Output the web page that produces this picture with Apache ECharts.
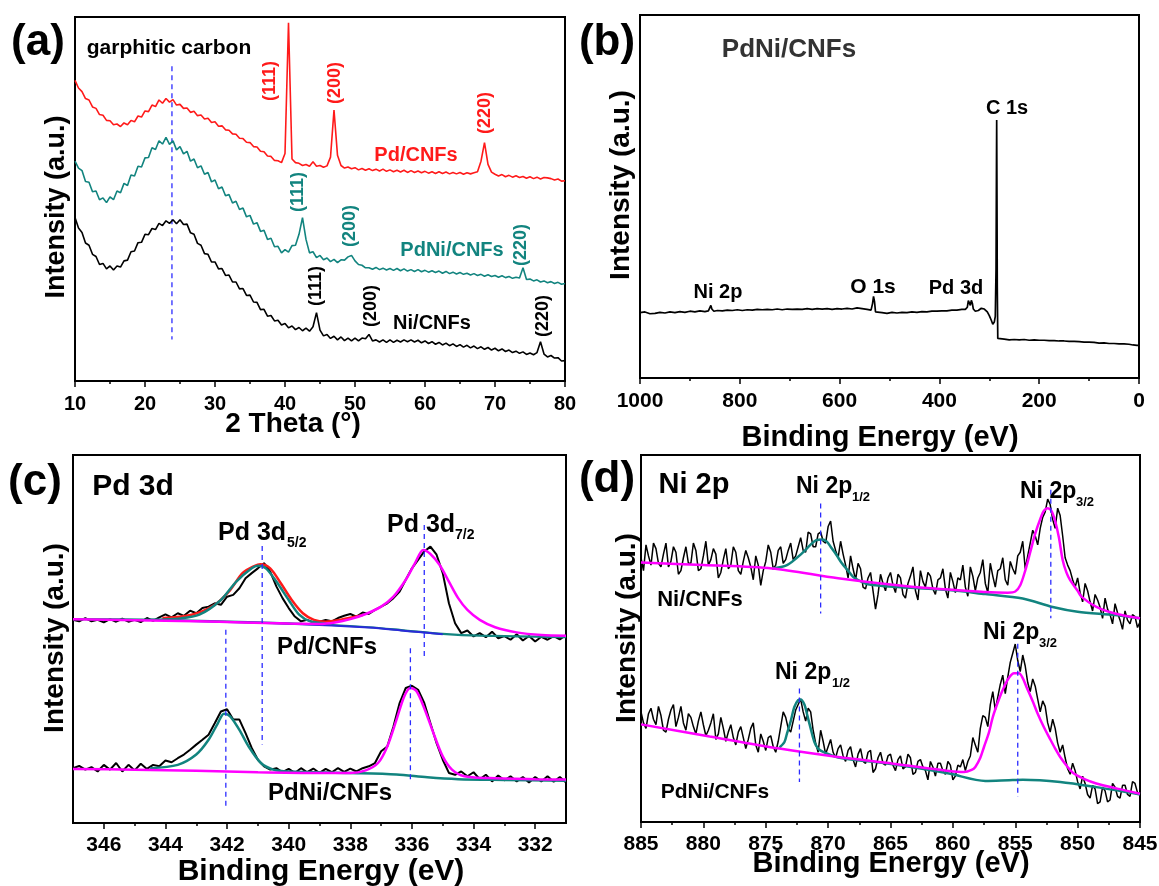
<!DOCTYPE html>
<html>
<head>
<meta charset="utf-8">
<title>PdNi/CNFs XRD and XPS</title>
<script src="https://cdn.jsdelivr.net/npm/echarts@6/dist/echarts.min.js"></script>
<style>
  html, body { margin: 0; padding: 0; background: #fff; }
  #chart { width: 1159px; height: 886px; }
</style>
</head>
<body>
<div id="chart"></div>
<script>
// (a) XRD, sampled every 0.5 deg from 10 to 80
const thetaStart = 10, thetaStep = 0.5;
const xrdPd = [
  82.6, 80.5, 79.5, 77.6, 77.2, 75.3, 74.9, 73.2, 73.0, 71.6,
  71.5, 70.4, 70.6, 69.9, 70.9, 70.4, 71.6, 71.2, 72.8, 72.5,
  74.2, 74.0, 75.8, 75.4, 77.2, 76.3, 77.6, 76.6, 77.3, 75.8,
  76.0, 74.9, 75.0, 73.8, 74.1, 72.9, 73.1, 72.0, 72.2, 71.0,
  71.2, 70.0, 70.1, 69.0, 68.9, 67.9, 67.8, 66.7, 66.6, 65.6,
  65.5, 64.4, 64.3, 63.1, 63.0, 61.8, 61.7, 60.6, 60.5, 60.0,
  62.5, 98.4, 61.0, 60.0, 59.8, 59.2, 59.5, 59.0, 60.2, 59.0,
  59.2, 58.7, 59.1, 61.5, 74.4, 62.0, 59.2, 58.5, 58.8, 58.3,
  58.6, 58.0, 58.4, 57.9, 58.3, 57.8, 58.2, 57.7, 58.2, 57.6,
  58.0, 57.5, 57.9, 57.4, 57.9, 57.3, 57.8, 57.3, 57.7, 57.2,
  57.6, 57.1, 57.5, 57.0, 57.5, 57.0, 57.4, 56.9, 57.3, 56.9,
  57.3, 56.8, 57.2, 56.9, 57.2, 57.5, 60.4, 65.5, 59.5, 57.4,
  56.8, 56.3, 56.7, 56.1, 56.5, 56.0, 56.4, 55.9, 56.2, 55.7,
  56.1, 55.6, 56.0, 55.5, 55.9, 55.8, 55.6, 55.2, 55.5, 54.9,
  55.0
];
const xrdPdNi = [
  60.4, 58.5, 57.8, 54.8, 54.6, 52.0, 52.2, 49.8, 50.3, 49.0,
  50.6, 49.8, 52.2, 51.7, 54.3, 53.7, 56.6, 56.3, 59.0, 58.8,
  61.3, 61.4, 64.1, 63.6, 66.0, 65.1, 66.9, 65.0, 66.0, 63.5,
  64.4, 62.4, 63.1, 60.4, 61.0, 58.6, 59.1, 56.8, 57.3, 54.7,
  55.2, 52.8, 53.3, 50.9, 51.2, 48.9, 49.4, 47.1, 47.5, 45.1,
  45.5, 43.1, 43.5, 41.1, 41.4, 38.9, 39.2, 36.9, 37.0, 35.2,
  36.1, 35.4, 37.2, 37.3, 40.3, 44.9, 38.9, 35.2, 35.5, 33.9,
  34.5, 33.3, 33.8, 32.8, 33.4, 32.5, 33.3, 33.2, 34.1, 34.5,
  33.0, 32.0, 31.8, 31.1, 31.1, 30.7, 31.2, 30.6, 31.0, 30.5,
  30.9, 30.4, 30.9, 30.3, 30.8, 30.2, 30.6, 30.1, 30.6, 30.0,
  30.4, 29.9, 30.3, 29.8, 30.2, 29.6, 30.1, 29.5, 29.9, 29.4,
  29.8, 29.3, 29.6, 29.1, 29.5, 29.0, 29.3, 28.8, 29.2, 28.7,
  29.0, 28.5, 28.9, 28.4, 28.7, 28.2, 28.5, 28.3, 31.1, 27.9,
  28.0, 27.5, 27.8, 27.2, 27.5, 27.0, 27.3, 26.8, 27.1, 26.6,
  26.8
];
const xrdNi = [
  44.9, 42.0, 40.8, 37.9, 37.3, 34.8, 34.2, 32.0, 32.3, 30.8,
  31.6, 30.5, 31.6, 31.3, 33.0, 33.2, 35.5, 35.7, 38.0, 38.1,
  40.3, 40.2, 41.9, 41.6, 43.3, 42.7, 44.0, 43.3, 44.3, 43.2,
  44.3, 43.0, 43.1, 40.7, 40.3, 37.8, 37.3, 35.0, 34.8, 32.7,
  32.7, 30.8, 30.9, 29.0, 29.1, 27.2, 27.2, 25.3, 25.4, 23.5,
  23.6, 21.7, 21.6, 19.6, 19.7, 17.8, 18.0, 16.5, 16.7, 15.4,
  15.8, 14.6, 15.1, 14.1, 14.7, 13.8, 14.5, 13.7, 14.9, 18.8,
  14.0, 12.4, 12.8, 11.7, 12.3, 11.3, 12.1, 11.1, 11.8, 11.0,
  11.8, 11.0, 11.8, 11.6, 12.8, 11.0, 11.3, 10.7, 11.3, 10.6,
  11.3, 10.6, 11.2, 10.7, 11.3, 10.8, 11.3, 10.7, 11.2, 10.5,
  11.0, 10.3, 10.8, 10.1, 10.6, 9.9, 10.4, 9.7, 10.2, 9.5,
  10.0, 9.3, 9.8, 9.1, 9.6, 8.9, 9.4, 8.7, 9.2, 8.5,
  9.0, 8.3, 8.8, 8.1, 8.5, 7.8, 8.2, 7.6, 8.0, 7.3,
  7.7, 7.2, 7.8, 10.8, 7.4, 6.6, 7.0, 6.3, 6.4, 5.5,
  5.6
];
const xrdGuide = [[23.85, 86.5], [23.85, 11.4]];

// (b) XPS survey [binding energy, intensity]
const survey = [
  [1000, 18.0], [990, 18.2], [980, 17.7], [970, 17.8], [960, 18.1], [950, 17.9], [940, 18.2], [930, 18.0],
  [920, 18.3], [910, 18.1], [900, 18.4], [890, 18.2], [880, 18.5], [870, 18.3], [863, 18.5], [860, 19.4],
  [858, 20.0], [856, 19.0], [852, 18.4], [845, 18.6], [835, 18.5], [825, 18.7], [815, 18.6], [805, 18.8],
  [795, 18.6], [785, 18.8], [775, 18.7], [765, 18.9], [755, 18.8], [745, 18.9], [735, 18.8], [725, 19.0],
  [715, 18.8], [705, 19.0], [695, 18.9], [685, 19.0], [675, 18.9], [665, 19.1], [655, 18.9], [645, 19.1],
  [635, 19.0], [625, 19.1], [615, 18.9], [605, 19.1], [595, 19.0], [585, 19.2], [575, 19.0], [565, 19.3],
  [555, 19.1], [545, 18.9], [537, 18.7], [534, 20.5], [532, 22.5], [530, 21.0], [528, 18.2], [525, 17.8],
  [515, 18.0], [505, 17.8], [495, 18.1], [485, 17.9], [475, 18.1], [465, 18.0], [455, 18.2], [445, 18.1],
  [435, 18.3], [425, 18.2], [415, 18.4], [405, 18.4], [395, 18.5], [385, 18.5], [375, 18.7], [365, 18.7],
  [355, 18.9], [348, 18.9], [344, 19.5], [342, 21.3], [340, 21.5], [338, 20.0], [336, 21.4], [334, 20.6],
  [332, 19.0], [328, 18.4], [322, 18.6], [316, 19.2], [310, 19.0], [304, 18.2], [300, 17.2], [296, 15.9],
  [293, 14.8], [290, 15.4], [288, 17.0], [286.5, 30.0], [285.6, 60.0], [285.2, 71.1], [284.6, 50.0],
  [284, 25.0], [283, 10.9], [280, 10.6], [270, 10.7], [260, 10.5], [250, 10.6], [240, 10.5], [230, 10.6],
  [220, 10.4], [210, 10.5], [200, 10.4], [190, 10.4], [180, 10.3], [170, 10.3], [160, 10.2], [150, 10.2],
  [140, 10.1], [130, 10.1], [120, 10.0], [110, 9.9], [100, 9.9], [90, 9.8], [80, 9.6], [70, 9.7],
  [60, 9.5], [50, 9.5], [40, 9.4], [30, 9.4], [20, 9.3], [12, 9.1], [8, 9.4], [4, 9.0], [0, 9.0]
];

// (c) Pd 3d, raw sampled every 0.2 eV from 347 to 331
const pdStart = 347, pdStep = -0.2;
const pdRawPd = [
  55.2, 54.8, 55.7, 54.8, 55.2, 54.5, 55.4, 54.7, 55.5, 54.7,
  55.2, 54.6, 55.7, 54.9, 55.9, 56.7, 55.9, 57.0, 56.3, 57.7,
  57.0, 58.4, 58.8, 59.7, 59.3, 61.5, 62.0, 63.8, 66.5, 67.9,
  69.2, 70.6, 68.3, 64.3, 61.1, 58.4, 56.1, 54.8, 55.2, 54.5,
  54.7, 55.2, 54.8, 55.7, 56.3, 56.8, 56.1, 57.2, 56.8, 57.9,
  58.8, 59.7, 61.1, 62.9, 66.1, 69.2, 71.5, 73.8, 75.1, 72.9,
  67.9, 59.7, 54.3, 51.6, 52.3, 50.7, 51.6, 50.5, 52.0, 50.2,
  50.8, 49.8, 51.3, 49.6, 50.8, 49.3, 50.6, 49.8, 50.8, 49.9,
  51.1
];
const pdRawPdNi = [
  14.9, 15.5, 14.5, 15.2, 14.0, 15.8, 14.5, 16.3, 14.0, 15.8,
  14.3, 16.1, 14.7, 15.8, 15.4, 17.0, 16.5, 17.6, 18.6, 19.9,
  21.3, 22.6, 24.0, 27.1, 30.3, 30.9, 28.1, 28.1, 24.4, 20.4,
  17.2, 15.4, 14.5, 14.9, 13.8, 14.7, 13.6, 14.9, 13.8, 14.8,
  13.6, 14.7, 13.8, 14.9, 13.9, 14.8, 14.0, 14.9, 15.4, 16.3,
  19.5, 20.8, 26.2, 32.6, 36.7, 37.3, 36.2, 32.6, 27.1, 21.7,
  17.2, 13.6, 13.1, 14.0, 12.7, 13.8, 11.9, 13.1, 11.3, 12.9,
  11.6, 12.7, 11.3, 12.5, 11.0, 12.5, 11.3, 12.7, 11.2, 12.5,
  11.0
];
const pdFitEnvPd = [[344.1, 55.7], [343.15, 56.6], [342.4, 59.3], [341.9, 63.3], [341.5, 67.9], [341.1, 69.9],
  [340.92, 70.3], [340.6, 69.2], [340.26, 65.2], [339.9, 60.6], [339.54, 57.0], [339.18, 55.2], [338.8, 54.7],
  [338.34, 55.2], [337.6, 56.5]];
const pd52Pd = [[344.5, 55.2], [343.5, 55.6], [342.9, 56.6], [342.2, 60.6], [341.7, 65.6], [341.2, 69.2],
  [341.0, 69.9], [340.74, 69.2], [340.4, 65.6], [340.0, 60.6], [339.66, 56.6], [339.3, 54.8], [338.8, 54.3]];
const pd72Pd = [[347, 55.4], [345, 55.1], [343, 54.8], [341.5, 54.5], [340, 54.2], [339, 54.1], [338.5, 54.5],
  [338, 55.4], [337.5, 56.8], [337, 58.8], [336.6, 61.5], [336.2, 66.1], [335.9, 70.6], [335.63, 74.2],
  [335.4, 73.1], [335.1, 70.1], [334.8, 65.6], [334.5, 61.1], [334.2, 57.9], [333.8, 55.2], [333.3, 53.2],
  [332.6, 51.8], [331.8, 51.1], [331, 50.9]];
const pdBasePd = [[347, 55.4], [344.1, 55.2], [341, 54.5], [338.6, 53.8], [337.4, 53.2], [336.2, 52.3],
  [335, 51.4], [333.8, 50.9], [331, 50.5]];
const pdBasePdBlue = [[344.1, 55.1], [341, 54.4], [338.6, 53.7], [337.4, 53.1], [336.2, 52.2], [335, 51.3]];
const pd52PdNi = [[344.5, 14.9], [343.6, 15.8], [343.0, 18.6], [342.6, 22.6], [342.3, 27.1], [342.1, 29.7],
  [341.9, 29.0], [341.6, 25.3], [341.3, 20.8], [340.9, 16.3], [340.5, 14.5], [340, 14.0], [338, 13.6],
  [336.5, 13.2], [335.5, 12.4], [334.5, 11.9], [333, 11.7], [331, 11.5]];
const pd72PdNi = [[347, 14.7], [345, 14.5], [343, 14.2], [341, 13.8], [339, 13.6], [338, 13.6], [337.5, 14.3],
  [337.1, 16.3], [336.8, 20.8], [336.5, 28.1], [336.25, 34.4], [336.05, 36.7], [335.85, 35.8], [335.6, 31.2],
  [335.3, 24.4], [335.0, 18.1], [334.7, 14.5], [334.3, 12.7], [333.5, 12.2], [332, 11.9], [331, 11.8]];
const pdGuides = [
  [[340.86, 75.3], [340.86, 21.3]], [[335.6, 81.0], [335.6, 44.3]],
  [[342.04, 52.5], [342.04, 4.1]], [[336.05, 47.5], [336.05, 10.9]]
];
const pdTicks = [332, 334, 336, 338, 340, 342, 344, 346];
const pdMinorTicks = [333, 335, 337, 339, 341, 343, 345];

// (d) Ni 2p, raw sampled every 0.2 eV from 885 to 845
const niStart = 885, niStep = -0.2;
const niRawNi = [
  72.0, 68.5, 75.5, 72.5, 70.0, 76.0, 74.5, 70.5, 69.5, 73.0, 76.0, 69.5, 71.0, 75.0, 73.5, 67.5, 68.5, 72.0, 75.0, 70.5,
  70.5, 76.0, 74.0, 68.5, 69.0, 72.5, 76.5, 70.0, 71.5, 74.5, 73.0, 66.5, 68.0, 71.5, 74.5, 69.0, 70.0, 75.0, 73.5, 68.5,
  67.5, 71.0, 74.0, 72.0, 69.5, 66.0, 72.5, 70.0, 64.5, 68.5, 71.0, 75.5, 73.5, 69.0, 70.0, 74.0, 75.0, 70.5, 71.5, 74.0,
  76.0, 71.5, 72.5, 75.0, 77.5, 74.0, 73.5, 79.0, 78.5, 75.0, 75.0, 78.5, 79.0, 76.5, 76.0, 80.5, 82.0, 76.5, 74.0, 72.0,
  76.5, 73.0, 70.0, 66.5, 72.5, 69.0, 66.0, 70.5, 69.0, 64.0, 63.5, 66.5, 68.0, 63.0, 58.0, 62.0, 67.5, 65.0, 63.0, 66.5,
  68.0, 64.5, 62.5, 67.5, 66.5, 62.0, 61.0, 65.0, 67.0, 69.5, 63.0, 60.5, 68.5, 65.5, 64.0, 68.0, 67.0, 63.5, 62.0, 66.0,
  66.5, 69.0, 63.5, 61.0, 68.0, 65.5, 62.5, 66.5, 66.0, 70.0, 64.0, 61.5, 69.5, 67.0, 63.0, 66.5, 68.0, 71.5, 65.0, 62.5,
  70.5, 67.0, 64.0, 68.5, 69.0, 72.0, 66.0, 64.5, 71.0, 69.0, 67.5, 72.5, 73.5, 76.5, 69.0, 72.5, 76.0, 79.5, 78.0, 75.5,
  80.0, 83.0, 84.5, 88.0, 86.5, 82.5, 80.0, 85.5, 83.5, 78.0, 72.0, 70.0, 68.5, 66.0, 64.0, 66.5, 62.5, 60.0, 65.0, 63.0,
  60.0, 57.5, 62.0, 60.5, 58.5, 55.5, 61.0, 58.0, 56.5, 54.0, 59.5, 57.0, 55.0, 52.5, 57.5, 55.0, 54.0, 56.5, 56.0, 53.0,
  54.5
];
const niRawPdNi = [
  30.0, 27.0, 25.5, 29.5, 31.0, 28.0, 26.5, 31.5, 29.0, 25.0, 24.5, 28.0, 30.5, 32.0, 26.0, 28.5, 31.5, 27.0, 25.0, 29.5,
  28.5, 26.0, 24.0, 27.5, 30.0, 26.5, 23.5, 25.0, 27.0, 29.5, 22.5, 24.0, 28.5, 25.5, 22.0, 24.5, 26.5, 23.0, 21.0, 24.5,
  26.0, 23.0, 20.0, 22.5, 25.5, 27.0, 21.0, 19.0, 24.0, 22.0, 19.5, 23.0, 23.5, 20.5, 19.0, 22.0, 26.0, 30.0, 28.5, 25.5,
  24.5, 27.5, 30.5, 32.0, 33.5, 30.0, 27.5, 31.0, 30.0, 25.0, 21.5, 19.0, 25.0, 22.0, 18.5, 20.5, 22.5, 19.0, 17.5, 20.0,
  21.0, 18.0, 16.5, 19.5, 20.5, 17.0, 15.0, 18.5, 20.0, 16.5, 16.0, 19.0, 19.5, 13.5, 14.5, 17.5, 19.0, 16.0, 15.5, 18.0,
  18.5, 15.5, 14.0, 17.0, 18.0, 14.5, 15.0, 18.5, 17.5, 13.0, 13.5, 16.5, 17.0, 15.0, 14.0, 11.5, 16.5, 15.0, 12.5, 16.0,
  16.0, 14.0, 13.0, 16.5, 15.5, 11.5, 12.5, 15.5, 15.0, 17.0, 14.0, 16.5, 18.0, 23.0, 21.0, 19.0, 25.5, 29.0, 28.5, 26.0,
  32.0, 35.5, 30.5, 34.0, 37.5, 40.0, 35.0, 39.5, 43.5, 46.0, 48.5, 44.0, 41.0, 45.5, 42.5, 38.0, 35.5, 39.0, 37.0, 33.5,
  30.0, 33.0, 31.5, 27.0, 24.5, 28.0, 25.5, 21.5, 19.0, 21.0, 17.5, 14.5, 13.0, 16.0, 14.0, 11.0, 9.0, 12.5, 10.5, 7.5,
  6.5, 10.0, 9.0, 5.0, 5.5, 9.5, 8.5, 5.5, 6.0, 10.5, 9.5, 7.0, 6.5, 10.0, 10.0, 7.5, 7.0, 11.0, 10.5, 8.0,
  8.0
];
const ni32Ni = [[885, 70.7], [880, 70.0], [874.5, 69.1], [869.2, 66.4], [863.3, 64.1], [857.4, 62.7], [855.6, 62.5],
  [855.0, 62.8], [854.6, 64.5], [854.2, 68.5], [853.8, 73.5], [853.4, 78.6], [853.0, 82.5], [852.7, 84.8],
  [852.4, 85.5], [852.1, 84.8], [851.8, 82.0], [851.5, 77.5], [851.2, 71.4], [850.9, 68.0], [850.6, 65.9],
  [850.0, 63.0], [849.7, 61.4], [848.5, 58.6], [847.0, 56.8], [845, 55.5]];
const ni12Ni = [[874.5, 69.1], [873.3, 70.0], [872.1, 73.2], [871.4, 75.6], [870.95, 76.8], [870.5, 77.0],
  [870.1, 76.4], [869.8, 75.0], [869.3, 72.6], [868.9, 70.5], [868.4, 68.5], [868.0, 66.8], [867.4, 65.6],
  [866.8, 64.8], [864.8, 64.1], [860.3, 63.2], [857.4, 62.1], [854.4, 60.9], [852.0, 58.6], [850, 57.3],
  [847, 56.4], [845, 55.5]];
const ni32PdNi = [[885, 26.6], [879.5, 23.3], [873.9, 20.0], [869.2, 17.7], [864.8, 15.9], [860.3, 13.9],
  [859.1, 13.6], [858.5, 14.2], [858.2, 15.0], [857.8, 17.5], [857.5, 20.5], [857.1, 24.5], [856.8, 28.6],
  [856.3, 33.5], [855.9, 36.8], [855.5, 39.3], [855.1, 40.5], [854.7, 40.5], [854.4, 39.2], [854.1, 36.8],
  [853.6, 32.9], [853.2, 29.5], [852.7, 25.8], [852.3, 23.2], [851.8, 20.0], [851.4, 17.7], [850.8, 15.0],
  [850.3, 13.2], [849.4, 11.6], [848.5, 10.5], [846.8, 9.1], [845, 7.7]];
const ni12PdNi = [[873.9, 20.3], [873.5, 21.8], [873.3, 24.1], [873.0, 27.5], [872.7, 31.4], [872.4, 33.2],
  [872.2, 33.4], [871.9, 32.0], [871.7, 29.5], [871.4, 25.5], [871.1, 21.8], [870.8, 20.0], [870.4, 19.1],
  [869.2, 17.6], [864.8, 15.7], [860.3, 13.2], [857.4, 11.2], [855.5, 11.4], [854.4, 11.5], [851.4, 10.9],
  [848.5, 9.5], [845, 7.5]];
const niGuides = [
  [[870.6, 86.8], [870.6, 56.8]], [[852.15, 90.5], [852.15, 55.5]],
  [[872.3, 36.4], [872.3, 10.9]], [[854.8, 48.6], [854.8, 6.8]]
];

const FONT = '"Liberation Sans", Arial, Helvetica, sans-serif';
const RED = '#ff1a1a', TEAL = '#12847f', MAG = '#ff00ff', BLUE = '#2b2bff';

function onGrid(start, step, vals) {
  return vals.map((v, i) => [Math.round((start + i * step) * 100) / 100, v]);
}

function grid(left, top, width, height) {
  return { left, top, width, height, show: true, borderColor: '#000', borderWidth: 2, outerBoundsMode: 'none' };
}

function xAx(gi, min, max, interval, inverse, fs, margin) {
  return {
    gridIndex: gi, type: 'value', min, max, interval, inverse,
    axisLine: { show: true, onZero: false, lineStyle: { color: '#000', width: 2 } },
    axisTick: { show: true, inside: false, length: 6, lineStyle: { color: '#000', width: 1.5 } },
    minorTick: { show: true, splitNumber: 2, length: 3, lineStyle: { color: '#000', width: 1.5 } },
    splitLine: { show: false }, minorSplitLine: { show: false },
    axisLabel: {
      color: '#000', fontFamily: FONT, fontWeight: 'bold', fontSize: fs, margin,
      formatter: v => String(v)
    }
  };
}

function yAx(gi) {
  return {
    gridIndex: gi, type: 'value', min: 0, max: 100,
    axisLine: { show: true, lineStyle: { color: '#000', width: 2 } },
    axisTick: { show: false }, axisLabel: { show: false }, splitLine: { show: false }
  };
}

function line(gi, data, color, width, dash, smooth) {
  return {
    type: 'line', xAxisIndex: gi, yAxisIndex: gi, data, symbol: 'none', silent: true,
    smooth: smooth || false, animation: false,
    lineStyle: { color, width, type: dash || 'solid' }
  };
}

function txt(x, y, s, size, color, rot, align) {
  const a = align || 'center';
  return {
    type: 'text', x, y, rotation: rot || 0, z: 100, silent: true,
    style: {
      text: s, fill: color || '#000', font: 'bold ' + size + 'px ' + FONT,
      textAlign: a, align: a, textVerticalAlign: 'middle', verticalAlign: 'middle'
    }
  };
}

const R90 = Math.PI / 2;

const cXAxis = xAx(2, 331, 347, undefined, true, 21, 12);
cXAxis.minorTick = { show: false };
cXAxis.axisTick.customValues = pdTicks;
cXAxis.axisLabel.customValues = pdTicks;
const cMinorAxis = {
  gridIndex: 2, type: 'value', min: 331, max: 347, inverse: true, position: 'bottom',
  axisLine: { show: false }, axisLabel: { show: false }, splitLine: { show: false },
  axisTick: { show: true, length: 3, customValues: pdMinorTicks, lineStyle: { color: '#000', width: 1.5 } }
};

const series = [
  // (a)
  line(0, xrdGuide, BLUE, 1.3, [5, 4]),
  line(0, onGrid(thetaStart, thetaStep, xrdPd), RED, 1.6),
  line(0, onGrid(thetaStart, thetaStep, xrdPdNi), TEAL, 1.6),
  line(0, onGrid(thetaStart, thetaStep, xrdNi), '#000', 1.6),
  // (b)
  line(1, survey, '#000', 1.7),
  // (c)
  line(2, onGrid(pdStart, pdStep, pdRawPd), '#000', 2),
  line(2, onGrid(pdStart, pdStep, pdRawPdNi), '#000', 2),
  line(2, pdBasePd, TEAL, 2.2, null, 0.3),
  line(2, pdBasePdBlue, '#2a2ad8', 2, null, 0.3),
  line(2, pdFitEnvPd, RED, 2.5, null, 0.3),
  line(2, pd52Pd, TEAL, 2.5, null, 0.3),
  line(2, pd72Pd, MAG, 2.5, null, 0.3),
  line(2, pd52PdNi, TEAL, 2.5, null, 0.3),
  line(2, pd72PdNi, MAG, 2.5, null, 0.3),
  ...pdGuides.map(g => line(2, g, BLUE, 1.3, [5, 4])),
  // (d)
  line(3, onGrid(niStart, niStep, niRawNi), '#000', 1.5),
  line(3, onGrid(niStart, niStep, niRawPdNi), '#000', 1.5),
  line(3, ni12Ni, TEAL, 2.5, null, 0.3),
  line(3, ni32Ni, MAG, 2.5, null, 0.3),
  line(3, ni12PdNi, TEAL, 2.5, null, 0.3),
  line(3, ni32PdNi, MAG, 2.5, null, 0.3),
  ...niGuides.map(g => line(3, g, BLUE, 1.3, [5, 4]))
];

const texts = [
  // (a)
  txt(38, 43, '(a)', 44),
  txt(169, 48, 'garphitic carbon', 21),
  txt(270, 81, '(111)', 18, RED, R90), txt(335, 83, '(200)', 18, RED, R90), txt(485, 113, '(220)', 18, RED, R90),
  txt(416, 155, 'Pd/CNFs', 20, RED),
  txt(298, 192, '(111)', 18, TEAL, R90), txt(350, 226, '(200)', 18, TEAL, R90), txt(521, 245, '(220)', 18, TEAL, R90),
  txt(452, 250, 'PdNi/CNFs', 20, TEAL),
  txt(316, 286, '(111)', 18, '#000', R90), txt(371, 306, '(200)', 18, '#000', R90), txt(543, 316, '(220)', 18, '#000', R90),
  txt(432, 323, 'Ni/CNFs', 20),
  txt(57, 207, 'Intensity (a.u.)', 27, '#000', R90),
  txt(293, 424, '2 Theta (°)', 28),
  // (b)
  txt(607, 43, '(b)', 44),
  txt(789, 50, 'PdNi/CNFs', 26, '#333'),
  txt(1007, 108, 'C 1s', 20),
  txt(718, 292, 'Ni 2p', 20),
  txt(873, 287, 'O 1s', 21),
  txt(956, 288, 'Pd 3d', 20),
  txt(621, 185, 'Intensity (a.u.)', 28, '#000', R90),
  txt(880, 438, 'Binding Energy (eV)', 29),
  // (c)
  txt(35, 483, '(c)', 44),
  txt(133, 487, 'Pd 3d', 30),
  txt(218, 533, 'Pd 3d', 25, '#000', 0, 'left'), txt(287, 543, '5/2', 14, '#000', 0, 'left'),
  txt(387, 525, 'Pd 3d', 25, '#000', 0, 'left'), txt(455, 535, '7/2', 14, '#000', 0, 'left'),
  txt(327, 647, 'Pd/CNFs', 24),
  txt(330, 793, 'PdNi/CNFs', 24),
  txt(55, 638, 'Intensity (a.u.)', 28, '#000', R90),
  txt(321, 872, 'Binding Energy (eV)', 30),
  // (d)
  txt(607, 480, '(d)', 44),
  txt(694, 485, 'Ni 2p', 29),
  txt(796, 487, 'Ni 2p', 23, '#000', 0, 'left'), txt(852, 497, '1/2', 13, '#000', 0, 'left'),
  txt(1020, 492, 'Ni 2p', 23, '#000', 0, 'left'), txt(1076, 502, '3/2', 13, '#000', 0, 'left'),
  txt(700, 600, 'Ni/CNFs', 22),
  txt(983, 633, 'Ni 2p', 23, '#000', 0, 'left'), txt(1039, 643, '3/2', 13, '#000', 0, 'left'),
  txt(775, 673, 'Ni 2p', 23, '#000', 0, 'left'), txt(832, 683, '1/2', 13, '#000', 0, 'left'),
  txt(715, 792, 'PdNi/CNFs', 21),
  txt(627, 628, 'Intensity (a.u.)', 28, '#000', R90),
  txt(891, 864, 'Binding Energy (eV)', 29)
];

const chart = echarts.init(document.getElementById('chart'), null, { renderer: 'canvas' });
chart.setOption({
  backgroundColor: '#fff',
  animation: false,
  grid: [grid(75, 17, 490, 364), grid(640, 15, 499, 363), grid(73, 455, 493, 368), grid(641, 455, 499, 367)],
  xAxis: [
    xAx(0, 10, 80, 10, false, 20, 13),
    xAx(1, 0, 1000, 200, true, 21, 13),
    cXAxis,
    xAx(3, 845, 885, 5, true, 21, 12),
    cMinorAxis
  ],
  yAxis: [yAx(0), yAx(1), yAx(2), yAx(3)],
  series,
  graphic: { elements: texts }
});
</script>
</body>
</html>
